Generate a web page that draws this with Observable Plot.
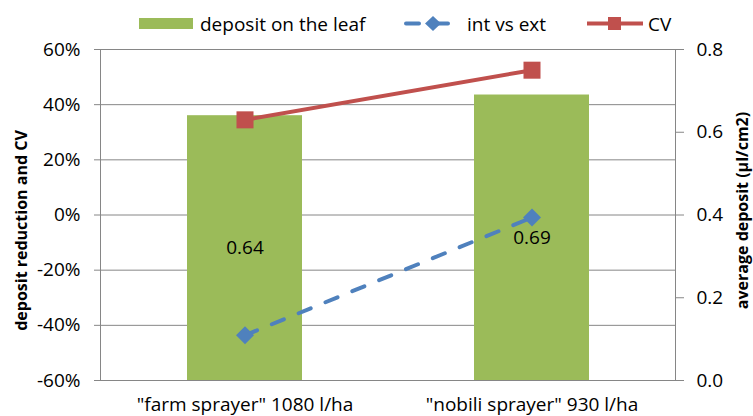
<!DOCTYPE html>
<html>
<head>
<meta charset="utf-8">
<script src="https://cdn.jsdelivr.net/npm/d3@7"></script>
<script src="https://cdn.jsdelivr.net/npm/@observablehq/plot@0.6"></script>
<style>
  html, body { margin: 0; padding: 0; background: #fff; }
  #wrap { position: relative; width: 753px; height: 416px; overflow: hidden; font-family: "Open Sans", sans-serif; }
  #wrap > svg, #wrap > figure { position: absolute; left: 0; top: 0; margin: 0; }
</style>
</head>
<body>
<div id="wrap"></div>
<script>
// ---- data ----
const categories = ['"farm sprayer" 1080 l/ha', '"nobili sprayer" 930 l/ha'];
const depositOnLeaf = [0.64, 0.69];
const intVsExt = [-0.436, -0.009];
const cv = [0.345, 0.525];
const leftTicks = [-0.6, -0.4, -0.2, 0, 0.2, 0.4, 0.6];
const rightTicks = [0, 0.2, 0.4, 0.6, 0.8];
const seriesNames = ["deposit on the leaf", "int vs ext", "CV"];
const leftTitle = "deposit reduction and CV";
const rightTitle = "average deposit (µl/cm2)";

const rows = categories.map((c, i) => ({cat: c, deposit: depositOnLeaf[i], ive: intVsExt[i], cv: cv[i]}));

const GREEN = "#9BBB59", BLUE = "#4F81BD", RED = "#C0504D", GRID = "#868686";
const W = 753, H = 416;
const margins = {marginTop: 49, marginBottom: 36, marginLeft: 100, marginRight: 78};
const xScale = {type: "band", domain: categories, paddingInner: 0.6, paddingOuter: 0.3};
const baseStyle = {fontFamily: "Open Sans", fontSize: "19px", color: "black", background: "transparent", overflow: "visible"};
const pct = d => Math.round(d * 100) + "%";

// Layer 1: gridlines, frame, left axis + title
const layer1 = Plot.plot({
  width: W, height: H, ...margins, style: baseStyle,
  x: {...xScale, axis: null},
  y: {domain: [-0.6, 0.6], axis: null},
  marks: [
    Plot.ruleY(leftTicks, {stroke: GRID, strokeWidth: 1}),
    Plot.frame({stroke: GRID, strokeWidth: 1}),
    Plot.axisY({ticks: leftTicks, tickFormat: pct, tickSize: 6, tickPadding: 14, stroke: GRID, fill: "black", label: null, fontSize: 19}),
    Plot.text([leftTitle], {text: d => d, frameAnchor: "left", textAnchor: "middle", rotate: -90, dx: -79, dy: 15.5, fontWeight: "bold", fontSize: 16, fill: "black"})
  ]
});

// Layer 2: bars, right axis, category labels, bar labels
const layer2 = Plot.plot({
  width: W, height: H, ...margins, style: baseStyle,
  x: {...xScale},
  y: {domain: [0, 0.8], axis: null},
  marks: [
    Plot.barY(rows, {x: "cat", y: "deposit", fill: GREEN}),
    Plot.axisX({tickSize: 0, tickPadding: 17, label: null, fontSize: 19, fill: "black"}),
    Plot.axisY({anchor: "right", ticks: rightTicks, tickFormat: d3.format(".1f"), tickSize: 8, tickPadding: 13, stroke: GRID, fill: "black", label: null, fontSize: 19}),
    Plot.text(rows, {x: "cat", y: d => d.deposit / 2, text: d => d3.format(".2f")(d.deposit), fontSize: 19, fill: "black"}),
    Plot.text([rightTitle], {text: d => d, frameAnchor: "right", textAnchor: "middle", rotate: -90, dx: 67, dy: -4.5, fontWeight: "bold", fontSize: 16, fill: "black"})
  ]
});

// Layer 3: lines and markers
const layer3 = Plot.plot({
  width: W, height: H, ...margins, style: baseStyle,
  x: {...xScale, axis: null},
  y: {domain: [-0.6, 0.6], axis: null},
  marks: [
    Plot.line(rows, {x: "cat", y: "ive", stroke: BLUE, strokeWidth: 4, strokeDasharray: "13,16", strokeLinecap: "round"}),
    Plot.dot(rows, {x: "cat", y: "ive", symbol: "diamond2", r: 8.1, fill: BLUE, stroke: "none"}),
    Plot.line(rows, {x: "cat", y: "cv", stroke: RED, strokeWidth: 4}),
    Plot.dot(rows, {x: "cat", y: "cv", symbol: "square", r: 9.6, fill: RED, stroke: "none"})
  ]
});

const wrap = document.getElementById("wrap");
wrap.append(layer1, layer2, layer3);

// Legend (above the plot area)
const ns = "http://www.w3.org/2000/svg";
const leg = document.createElementNS(ns, "svg");
leg.setAttribute("width", W); leg.setAttribute("height", 45);
leg.style.position = "absolute"; leg.style.left = "0"; leg.style.top = "0";
leg.innerHTML = `
  <rect x="139" y="18" width="54" height="11" fill="${GREEN}"/>
  <text x="200" y="24" dy="0.35em" font-family="Open Sans" font-size="19" fill="black">${seriesNames[0]}</text>
  <line x1="406" y1="23.5" x2="419" y2="23.5" stroke="${BLUE}" stroke-width="4" stroke-linecap="round"/>
  <line x1="433" y1="23.5" x2="448" y2="23.5" stroke="${BLUE}" stroke-width="4" stroke-linecap="round"/>
  <path d="M433,16 L441,23.5 L433,31 L425,23.5 Z" fill="${BLUE}"/>
  <text x="467" y="24" dy="0.35em" font-family="Open Sans" font-size="19" fill="black">${seriesNames[1]}</text>
  <line x1="587" y1="23.5" x2="643" y2="23.5" stroke="${RED}" stroke-width="4"/>
  <rect x="608" y="17" width="13" height="13" fill="${RED}"/>
  <text x="648" y="24" dy="0.35em" font-family="Open Sans" font-size="19" fill="black">${seriesNames[2]}</text>
`;
wrap.append(leg);
</script>
</body>
</html>
